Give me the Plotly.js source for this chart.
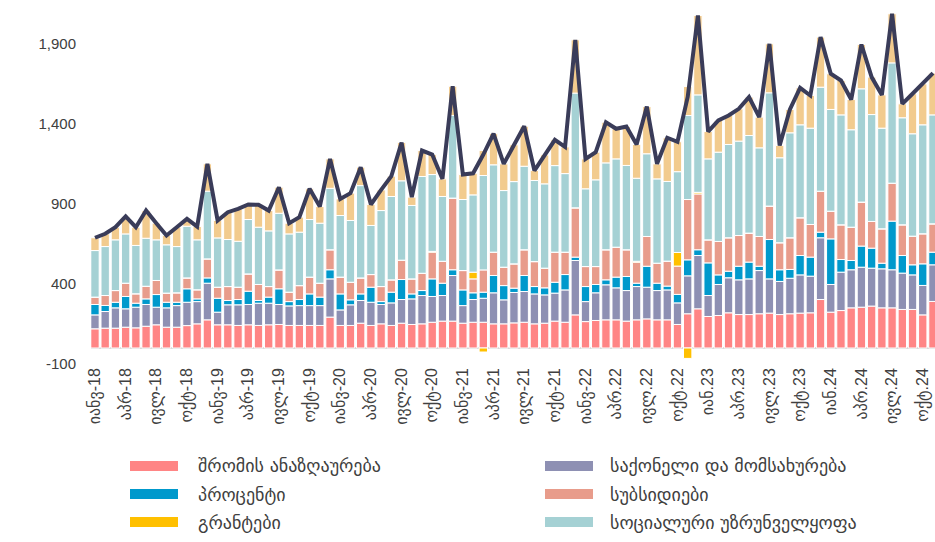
<!DOCTYPE html>
<html>
<head>
<meta charset="utf-8">
<script src="https://cdn.plot.ly/plotly-3.0.1.min.js"></script>
<style>
  html, body { margin: 0; padding: 0; background: #ffffff; }
  #chart { width: 935px; height: 542px; }
</style>
</head>
<body>
<div id="chart"></div>
<script>
// ---- data (monthly, Jan 2018 .. Nov 2024), million GEL ----
const wages = [120,124,124,130,126,136,145,130,130,140,151,176,145,145,141,145,141,145,147,141,141,141,
  141,193,141,141,155,141,151,141,155,147,151,161,168,168,155,161,161,151,151,157,161,151,155,168,161,207,165,172,176,176,
  168,176,182,176,176,147,214,245,197,203,220,209,209,214,218,209,214,218,220,303,224,234,251,255,262,251,251,241,241,207,291];
const goods = [87,104,127,115,129,136,110,121,135,146,139,229,79,125,129,127,139,135,125,122,124,124,
  124,239,97,129,142,145,121,141,148,160,177,161,160,285,110,142,150,194,150,190,192,187,177,175,202,340,125,173,219,200,
  191,208,198,183,187,135,237,333,131,194,219,217,223,270,214,207,222,239,229,386,173,240,238,250,237,244,238,227,216,184,229];
const interest = [65,38,35,77,25,35,79,35,21,84,17,33,87,27,33,83,17,38,98,27,38,73,
  53,57,100,31,41,94,18,67,125,31,31,110,77,36,98,42,38,108,89,27,100,46,44,68,96,21,94,52,31,67,
  88,21,131,46,24,53,100,36,204,60,41,85,105,27,246,73,55,121,119,35,285,79,58,132,125,35,304,110,63,135,79];
const subsidies = [46,62,73,83,59,79,88,57,59,68,57,119,69,87,77,108,100,66,118,59,87,105,
  87,125,105,110,100,79,94,77,121,94,108,167,137,448,121,87,139,146,115,152,161,156,123,188,140,308,125,112,188,187,
  167,131,186,125,156,177,377,349,144,209,209,192,181,186,209,169,198,236,204,256,173,217,208,275,167,215,237,192,179,188,177];
const grants = [0,0,0,0,0,0,0,0,0,0,0,0,0,0,0,0,0,0,0,0,0,0,
  0,0,0,0,0,0,0,0,0,0,0,5,0,0,0,42,-25,0,0,0,0,0,0,0,0,0,0,0,0,0,
  0,6,0,0,0,85,-65,10,0,0,0,0,0,0,0,0,0,0,0,0,0,0,0,0,0,0,0,0,0,0,0];
const social = [291,306,317,308,302,300,254,302,289,323,312,423,308,294,287,340,358,348,354,364,334,360,
  375,384,385,386,577,307,475,521,496,459,605,480,405,516,444,483,590,546,479,514,522,507,527,541,491,717,486,542,543,552,
  527,519,517,527,498,505,525,609,506,558,583,590,610,554,708,531,656,581,602,650,636,687,609,708,668,629,752,669,640,681,681];
const other = [80,80,79,109,114,173,104,58,121,46,83,171,109,171,203,94,140,127,163,67,94,192,
  104,184,104,171,115,131,129,127,239,52,162,125,110,183,156,135,156,195,167,230,250,62,181,161,167,333,187,173,254,188,
  243,211,295,94,273,187,181,496,171,198,181,202,240,192,306,77,146,231,204,313,223,215,189,277,234,208,307,87,250,256,261];

const tickLabels = ['იანვ-18','აპრ-18','ივლ-18','ოქტ-18','იანვ-19','აპრ-19','ივლ-19','ოქტ-19',
  'იანვ-20','აპრ-20','ივლ-20','ოქტ-20','იანვ-21','აპრ-21','ივლ-21','ოქტ-21',
  'იანვ-22','აპრ.22','ივლ.22','ოქტ.22','იან.23','აპრ.23','ივლ.23','ოქტ.23',
  'იან.24','აპრ.24','ივლ.24','ოქტ.24'];
const yTickVals = [-100, 400, 900, 1400, 1900];
const yTickText = ['-100', '400', '900', '1,400', '1,900'];

const seriesNames = ['შრომის ანაზღაურება','საქონელი და მომსახურება','პროცენტი','სუბსიდიები','გრანტები','სოციალური უზრუნველყოფა','სხვა ხარჯები'];
const seriesColors = ['#ff8585','#8e90b3','#0099cc','#e89c8b','#ffc000','#a5d1d4','#f2cb8e'];

// ---- categories ----
const months = [];
for (let y = 2018; months.length < wages.length; y++) {
  for (let m = 1; m <= 12 && months.length < wages.length; m++) {
    months.push(y + '-' + String(m).padStart(2, '0'));
  }
}
const tickVals = tickLabels.map((_, i) => months[i * 3]);

const seriesData = [wages, goods, interest, subsidies, grants, social, other];
const total = months.map((_, i) => seriesData.reduce((s, arr) => s + arr[i], 0));

const traces = seriesData.map((arr, k) => ({
  type: 'bar',
  x: months,
  y: arr,
  name: seriesNames[k],
  marker: { color: seriesColors[k], line: { color: '#ffffff', width: 1 } },
  showlegend: false,
  hoverinfo: 'x+y+name'
}));
traces.push({
  type: 'scatter',
  mode: 'lines',
  x: months,
  y: total,
  name: 'სულ',
  line: { color: '#3a3c59', width: 4 },
  showlegend: false
});

// ---- custom legend (wide swatches) ----
const W = 935, H = 542;
const M = { l: 91, r: 0, t: 0, b: 178 };
const pw = W - M.l - M.r, ph = H - M.t - M.b;
const px2x = px => (px - M.l) / pw;
const py2y = py => (H - M.b - py) / ph;

const legendItems = [0, 1, 2, 3, 4, 5];
const colX = [{ sw: 130, tx: 196 }, { sw: 545, tx: 608 }];
const rowY = [466, 494, 522];
const shapes = [];
const annotations = [];
legendItems.forEach((k, idx) => {
  const c = colX[idx % 2];
  const r = rowY[Math.floor(idx / 2)];
  shapes.push({
    type: 'rect', xref: 'paper', yref: 'paper',
    x0: px2x(c.sw), x1: px2x(c.sw + 48), y0: py2y(r + 5), y1: py2y(r - 5),
    fillcolor: seriesColors[k], line: { width: 0 }
  });
  annotations.push({
    xref: 'paper', yref: 'paper', x: px2x(c.tx), y: py2y(r),
    xanchor: 'left', yanchor: 'middle', showarrow: false,
    text: seriesNames[k],
    font: { family: 'DejaVu Sans, sans-serif', size: 18, color: '#404040' }
  });
});

const layout = {
  width: W, height: H,
  margin: M,
  paper_bgcolor: '#ffffff',
  plot_bgcolor: '#ffffff',
  barmode: 'relative',
  bargap: 0.18,
  showlegend: false,
  font: { family: 'Liberation Sans, Arial, DejaVu Sans, sans-serif', size: 15, color: '#404040' },
  xaxis: {
    type: 'category',
    range: [-0.39, 82.2],
    tickmode: 'array',
    tickvals: tickVals,
    ticktext: tickLabels,
    tickangle: -90,
    ticks: '',
    showgrid: false,
    showline: false,
    zeroline: false,
    tickfont: { size: 16, color: '#404040' }
  },
  yaxis: {
    range: [-100, 2175],
    tickmode: 'array',
    tickvals: yTickVals,
    ticktext: yTickText,
    ticks: '',
    showgrid: false,
    showline: false,
    zeroline: true,
    zerolinecolor: '#d9d9d9',
    zerolinewidth: 2,
    ticklabelstandoff: 14,
    tickfont: { size: 15, color: '#404040' }
  },
  shapes: shapes,
  annotations: annotations
};

Plotly.newPlot('chart', traces, layout, { displayModeBar: false, staticPlot: true });
</script>
</body>
</html>
